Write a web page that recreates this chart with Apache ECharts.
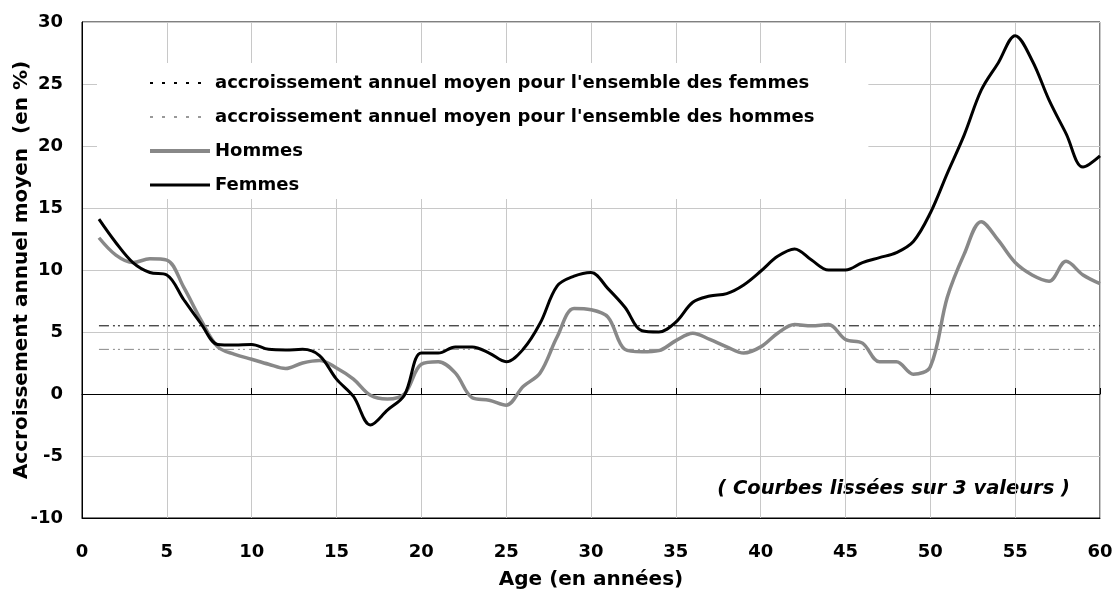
<!DOCTYPE html>
<html>
<head>
<meta charset="utf-8">
<script src="https://cdn.jsdelivr.net/npm/echarts@6/dist/echarts.min.js"></script>
<style>
  html, body { margin: 0; padding: 0; background: #fff; }
  #chart { width: 1117px; height: 593px; }
</style>
</head>
<body>
<div id="chart"></div>
<script>
// Ages 1 à 60
const ages = [];
for (let a = 1; a <= 60; a++) ages.push(a);

// accroissement annuel moyen, courbes lissées
const femmes = [
    14.1, 12.2, 10.6, 9.8, 9.6, 7.6, 5.7, 4.0, 3.95, 4.0,
    3.6, 3.55, 3.6, 3.1, 1.2, -0.2, -2.5, -1.3, -0.1, 3.3,
    3.3, 3.8, 3.8, 3.3, 2.6, 3.6, 5.7, 8.7, 9.5, 9.8,
    8.5, 7.0, 5.1, 5.0, 5.8, 7.4, 7.9, 8.1, 8.8, 9.9,
    11.1, 11.7, 10.8, 10.0, 10.0, 10.6, 11.0, 11.4, 12.3, 14.6,
    17.8, 20.9, 24.5, 26.7, 28.9, 26.9, 23.7, 21.0, 18.3, 19.2
];
const hommes = [
    12.6, 11.2, 10.6, 10.9, 10.8, 8.6, 6.0, 3.8, 3.2, 2.8,
    2.4, 2.05, 2.5, 2.7, 2.1, 1.2, -0.1, -0.4, 0.0, 2.4,
    2.6, 1.7, -0.3, -0.5, -0.9, 0.6, 1.7, 4.6, 6.9, 6.8,
    6.2, 3.6, 3.4, 3.5, 4.3, 4.9, 4.4, 3.8, 3.3, 3.8,
    4.9, 5.6, 5.5, 5.6, 4.4, 4.1, 2.6, 2.6, 1.6, 2.2,
    7.8, 11.3, 13.9, 12.4, 10.6, 9.6, 9.1, 10.7, 9.6, 8.9
];
// moyennes pour l'ensemble (de 1 à 60 ans)
const avgRange = [1, 60];
const avgFemmes = [5.5, 5.5];
const avgHommes = [3.6, 3.6];

const names = [
    "accroissement annuel moyen pour l'ensemble des femmes",
    "accroissement annuel moyen pour l'ensemble des hommes",
    "Hommes",
    "Femmes"
];

const font = "'DejaVu Sans', sans-serif";
const pair = (xs, ys) => xs.map((x, i) => [x, ys[i]]);
const noSymbol = { color: 'rgba(0,0,0,0)', borderColor: 'rgba(0,0,0,0)', borderWidth: 0, opacity: 0 };

const chart = echarts.init(document.getElementById("chart"));

const option = {
    animation: false,
    backgroundColor: '#fff',
    grid: {
        left: 82,
        right: 17,
        top: 22,
        bottom: 75,
        outerBoundsMode: 'none',
        containLabel: false,
        show: true,
        borderColor: '#000',
        borderWidth: 1,
        backgroundColor: 'transparent'
    },
    legend: {
        orient: 'vertical',
        left: 97,
        top: 63,
        padding: [11, 54, 5, 51],
        backgroundColor: '#fff',
        itemWidth: 60,
        itemHeight: 14,
        itemGap: 16,
        selectedMode: false,
        textStyle: { fontFamily: font, fontWeight: 'bold', fontSize: 18, lineHeight: 18, color: '#000' },
        data: [
            { name: names[0], itemStyle: noSymbol, lineStyle: { color: '#000', width: 2, type: [3, 9] } },
            { name: names[1], itemStyle: noSymbol, lineStyle: { color: '#999', width: 2, type: [3, 9] } },
            { name: names[2], itemStyle: noSymbol, lineStyle: { color: '#888', width: 4, type: 'solid' } },
            { name: names[3], itemStyle: noSymbol, lineStyle: { color: '#000', width: 3, type: 'solid' } }
        ]
    },
    xAxis: [
        {
            type: 'value',
            min: 0,
            max: 60,
            interval: 5,
            axisLine: { onZero: false, lineStyle: { color: '#000', width: 1 } },
            axisTick: { show: false },
            axisLabel: { margin: 25, fontFamily: font, fontWeight: 'bold', fontSize: 18, color: '#000' },
            splitLine: { show: true, lineStyle: { color: '#c8c8c8', width: 1 } },
            name: 'Age (en années)',
            nameLocation: 'middle',
            nameGap: 52,
            nameMoveOverlap: false,
            nameTextStyle: { fontFamily: font, fontWeight: 'bold', fontSize: 20, color: '#000' }
        },
        {
            // axe horizontal à zéro, avec graduations vers le haut
            type: 'value',
            min: 0,
            max: 60,
            interval: 5,
            position: 'bottom',
            axisLine: { show: true, onZero: true, lineStyle: { color: '#000', width: 1 } },
            axisTick: { show: true, inside: true, length: 6, lineStyle: { color: '#000' } },
            axisLabel: { show: false },
            splitLine: { show: false }
        }
    ],
    yAxis: {
        type: 'value',
        min: -10,
        max: 30,
        interval: 5,
        axisLine: { show: true, lineStyle: { color: '#000', width: 1 } },
        axisTick: { show: false },
        axisLabel: { margin: 19, fontFamily: font, fontWeight: 'bold', fontSize: 18, color: '#000' },
        splitLine: { show: true, lineStyle: { color: '#c8c8c8', width: 1 } },
        name: 'Accroissement annuel moyen  (en %)',
        nameLocation: 'middle',
        nameGap: 50,
        nameMoveOverlap: false,
        nameTextStyle: { fontFamily: font, fontWeight: 'bold', fontSize: 20, color: '#000' }
    },
    series: [
        {
            name: names[0],
            type: 'line',
            symbol: 'none',
            data: pair(avgRange, avgFemmes),
            lineStyle: { color: '#000', width: 1, type: [10, 4, 2, 3, 2, 4] },
            itemStyle: { color: '#000' },
            z: 3
        },
        {
            name: names[1],
            type: 'line',
            symbol: 'none',
            data: pair(avgRange, avgHommes),
            lineStyle: { color: '#888', width: 1, type: [10, 4, 2, 3, 2, 4] },
            itemStyle: { color: '#888' },
            z: 3
        },
        {
            name: names[2],
            type: 'line',
            symbol: 'none',
            smooth: 0.35,
            data: pair(ages, hommes),
            lineStyle: { color: '#888', width: 3.5 },
            itemStyle: { color: '#888' },
            z: 4
        },
        {
            name: names[3],
            type: 'line',
            symbol: 'none',
            smooth: 0.35,
            data: pair(ages, femmes),
            lineStyle: { color: '#000', width: 3 },
            itemStyle: { color: '#000' },
            z: 5
        }
    ],
    graphic: [
        {
            type: 'text',
            right: 47,
            top: 479,
            style: {
                text: '( Courbes lissées sur 3 valeurs )',
                fontFamily: font,
                fontStyle: 'italic',
                fontWeight: 'bold',
                fontSize: 19.5,
                fill: '#000'
            }
        }
    ]
};

chart.setOption(option);
</script>
</body>
</html>
